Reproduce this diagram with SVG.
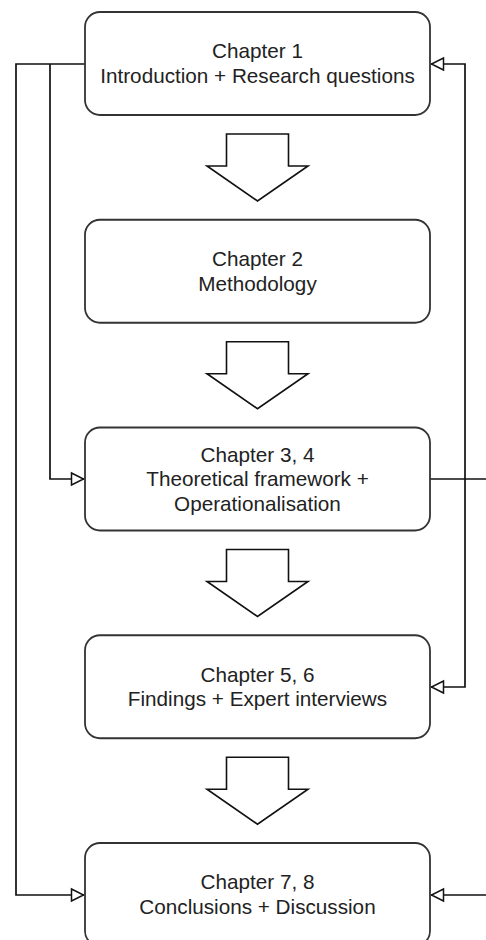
<svg xmlns="http://www.w3.org/2000/svg" width="486" height="940" viewBox="0 0 486 940">
<style>
.box{fill:#fff;stroke:#333;stroke-width:1.8}
.blk{fill:#fff;stroke:#111;stroke-width:1.6;stroke-linejoin:miter}
.lbl{font-family:"Liberation Sans",Arial,sans-serif;font-size:20.7px;fill:#222;text-anchor:middle}
.conn{fill:none;stroke:#111;stroke-width:1.7}
</style>
<defs>
<marker id="open" viewBox="0 0 13 12" refX="13" refY="6" markerWidth="13" markerHeight="12" markerUnits="userSpaceOnUse" orient="auto" overflow="visible">
<path d="M0.5,0 L12.5,6 L0.5,12 Z" fill="#fff" stroke="#111" stroke-width="1.5"/>
</marker>
<path id="bigarrow" d="M226.5,0 H288.5 V32 H308 L257.5,67 L207,32 H226.5 Z"/>
</defs>
<g id="connectors">
<path class="conn" d="M85,64 H16 V895 H84" marker-end="url(#open)"/>
<path class="conn" d="M50,64 V479 H84" marker-end="url(#open)"/>
<path class="conn" d="M430,479 H486"/>
<path class="conn" d="M465,479 V64 H431" marker-end="url(#open)"/>
<path class="conn" d="M465,479 V687 H431" marker-end="url(#open)"/>
<path class="conn" d="M486,895 H431" marker-end="url(#open)"/>
</g>
<g id="flow-arrows">
<use href="#bigarrow" class="blk" transform="translate(0,134)"/>
<use href="#bigarrow" class="blk" transform="translate(0,341.75)"/>
<use href="#bigarrow" class="blk" transform="translate(0,549.5)"/>
<use href="#bigarrow" class="blk" transform="translate(0,757.25)"/>
</g>
<g id="chapter1">
<rect class="box" x="85" y="12" width="345" height="103" rx="15"/>
<text class="lbl" x="257.5" y="58.3">Chapter 1</text>
<text class="lbl" x="257.5" y="82.8">Introduction + Research questions</text>
</g>
<g id="chapter2">
<rect class="box" x="85" y="219.75" width="345" height="103" rx="15"/>
<text class="lbl" x="257.5" y="266">Chapter 2</text>
<text class="lbl" x="257.5" y="290.5">Methodology</text>
</g>
<g id="chapter34">
<rect class="box" x="85" y="427.5" width="345" height="103" rx="15"/>
<text class="lbl" x="257.5" y="461.5">Chapter 3, 4</text>
<text class="lbl" x="257.5" y="486">Theoretical framework +</text>
<text class="lbl" x="257.5" y="510.5">Operationalisation</text>
</g>
<g id="chapter56">
<rect class="box" x="85" y="635.25" width="345" height="103" rx="15"/>
<text class="lbl" x="257.5" y="681.5">Chapter 5, 6</text>
<text class="lbl" x="257.5" y="706">Findings + Expert interviews</text>
</g>
<g id="chapter78">
<rect class="box" x="85" y="843" width="345" height="103" rx="15"/>
<text class="lbl" x="257.5" y="889.3">Chapter 7, 8</text>
<text class="lbl" x="257.5" y="913.8">Conclusions + Discussion</text>
</g>
</svg>
